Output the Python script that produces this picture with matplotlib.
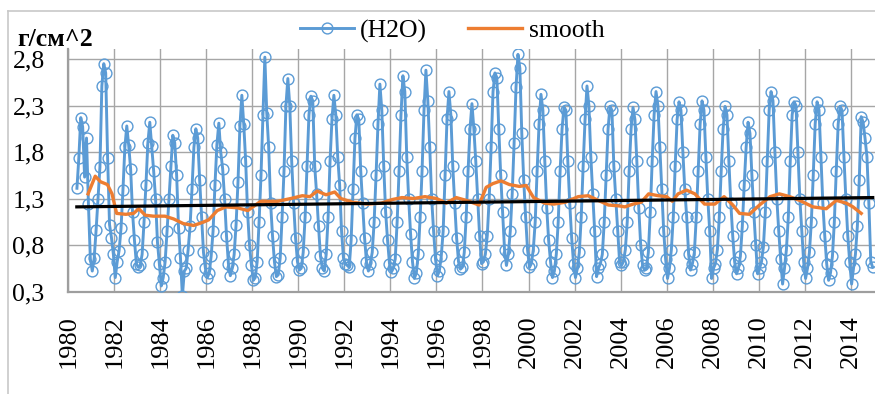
import numpy as np
import matplotlib
matplotlib.use("Agg")
import matplotlib.pyplot as plt
from matplotlib.lines import Line2D

# ---------------- data ----------------
start_year = 1980
start_month = 5  # data begins May 1980
h2o_by_year = {
    1980: [1.41, 1.74, 2.17, 2.07, 1.53, 1.95, 1.24, 0.65],
    1981: [0.52, 0.66, 0.96, 1.30, 1.64, 2.51, 2.75, 2.65, 1.74, 1.02, 0.88, 0.70],
    1982: [0.45, 0.62, 0.74, 0.98, 1.39, 1.85, 2.08, 1.87, 1.62, 1.15, 0.85, 0.60],
    1983: [0.56, 0.58, 0.70, 1.05, 1.45, 1.90, 2.12, 1.86, 1.60, 1.30, 0.83, 0.60],
    1984: [0.36, 0.45, 0.62, 0.95, 1.30, 1.65, 1.98, 1.90, 1.55, 0.98, 0.66, 0.25],
    1985: [0.52, 0.55, 0.75, 1.00, 1.40, 1.85, 2.05, 1.95, 1.50, 1.10, 0.72, 0.55],
    1986: [0.45, 0.50, 0.68, 0.95, 1.45, 1.88, 2.11, 1.80, 1.62, 1.30, 0.90, 0.60],
    1987: [0.47, 0.55, 0.70, 1.02, 1.48, 2.08, 2.41, 2.10, 1.70, 1.15, 0.80, 0.58],
    1988: [0.42, 0.45, 0.62, 1.05, 1.55, 2.20, 2.82, 2.22, 1.85, 1.25, 0.90, 0.62],
    1989: [0.46, 0.48, 0.66, 1.10, 1.60, 2.30, 2.59, 2.30, 1.70, 1.25, 0.88, 0.62],
    1990: [0.53, 0.55, 0.72, 1.10, 1.65, 2.20, 2.40, 2.35, 1.65, 1.35, 1.00, 0.68],
    1991: [0.55, 0.52, 0.70, 1.10, 1.70, 2.15, 2.41, 2.20, 1.75, 1.45, 0.95, 0.66],
    1992: [0.60, 0.58, 0.56, 0.85, 1.40, 1.95, 2.20, 2.15, 1.60, 1.25, 0.88, 0.62],
    1993: [0.52, 0.60, 0.72, 1.05, 1.55, 2.10, 2.53, 2.25, 1.65, 1.15, 0.85, 0.60],
    1994: [0.51, 0.55, 0.65, 1.05, 1.60, 2.20, 2.62, 2.45, 1.75, 1.30, 0.92, 0.62],
    1995: [0.44, 0.50, 0.70, 1.10, 1.60, 2.25, 2.68, 2.35, 1.85, 1.30, 0.95, 0.65],
    1996: [0.47, 0.52, 0.68, 0.95, 1.55, 2.15, 2.45, 2.20, 1.65, 1.25, 0.88, 0.62],
    1997: [0.54, 0.56, 0.72, 1.10, 1.60, 2.05, 2.32, 2.05, 1.70, 1.30, 0.90, 0.60],
    1998: [0.62, 0.70, 0.90, 1.30, 1.85, 2.45, 2.65, 2.60, 2.05, 1.55, 1.15, 0.75],
    1999: [0.58, 0.70, 0.95, 1.35, 1.90, 2.50, 2.85, 2.70, 2.00, 1.50, 1.10, 0.75],
    2000: [0.56, 0.60, 0.75, 1.05, 1.60, 2.10, 2.42, 2.25, 1.70, 1.20, 0.85, 0.62],
    2001: [0.45, 0.52, 0.70, 1.05, 1.60, 2.05, 2.28, 2.25, 1.70, 1.25, 0.88, 0.60],
    2002: [0.45, 0.55, 0.72, 1.10, 1.65, 2.15, 2.51, 2.30, 1.75, 1.35, 0.95, 0.46],
    2003: [0.55, 0.60, 0.70, 1.05, 1.55, 2.05, 2.29, 2.25, 1.65, 1.30, 0.95, 0.62],
    2004: [0.58, 0.62, 0.75, 1.05, 1.60, 2.05, 2.28, 2.15, 1.70, 1.20, 0.80, 0.58],
    2005: [0.53, 0.55, 0.72, 1.15, 1.70, 2.20, 2.45, 2.30, 1.85, 1.40, 0.95, 0.65],
    2006: [0.44, 0.55, 0.75, 1.10, 1.65, 2.15, 2.34, 2.25, 1.80, 1.40, 1.10, 0.70],
    2007: [0.53, 0.60, 0.72, 1.10, 1.60, 2.10, 2.35, 2.25, 1.75, 1.30, 0.95, 0.44],
    2008: [0.55, 0.60, 0.75, 1.10, 1.60, 2.05, 2.29, 2.20, 1.70, 1.25, 0.90, 0.62],
    2009: [0.49, 0.55, 0.68, 1.00, 1.45, 1.85, 2.12, 2.00, 1.55, 1.15, 0.80, 0.49],
    2010: [0.55, 0.62, 0.78, 1.15, 1.70, 2.25, 2.45, 2.35, 1.80, 1.30, 0.95, 0.65],
    2011: [0.38, 0.55, 0.75, 1.10, 1.70, 2.20, 2.34, 2.30, 1.80, 1.30, 0.95, 0.62],
    2012: [0.44, 0.55, 0.72, 1.05, 1.55, 2.10, 2.34, 2.25, 1.75, 1.25, 0.90, 0.60],
    2013: [0.42, 0.50, 0.68, 1.05, 1.60, 2.10, 2.29, 2.25, 1.75, 1.30, 0.90, 0.62],
    2014: [0.38, 0.55, 0.70, 1.00, 1.50, 2.18, 2.12, 1.95, 1.75, 1.25, 0.62, 0.56],
}

smooth_t = [1980.86, 1981.17, 1981.4, 1981.7, 1981.9, 1982.1, 1982.5, 1982.84, 1983.06,
            1983.35, 1983.7, 1984.2, 1984.58, 1985.0, 1985.45, 1985.8, 1986.1, 1986.47,
            1986.85, 1987.35, 1987.8, 1988.36, 1989.1, 1989.67, 1990.17, 1990.5, 1990.82,
            1991.2, 1991.58, 1991.84, 1992.35, 1993.0, 1993.6, 1994.1, 1994.5, 1995.0,
            1995.5, 1996.0, 1996.42, 1996.86, 1997.29, 1997.85, 1998.16, 1998.45, 1998.8,
            1999.17, 1999.6, 1999.9, 2000.22, 2000.7, 2001.1, 2001.6, 2002.16, 2002.6,
            2003.03, 2003.47, 2003.95, 2004.19, 2004.55, 2004.9, 2005.22, 2005.64, 2006.0,
            2006.25, 2006.5, 2006.87, 2007.23, 2007.65, 2008.1, 2008.5, 2008.88, 2009.17,
            2009.6, 2010.04, 2010.5, 2010.9, 2011.35, 2011.78, 2012.36, 2012.94, 2013.38,
            2013.81, 2014.1, 2014.46]
smooth_v = [1.35, 1.54, 1.48, 1.45, 1.35, 1.14, 1.13, 1.14, 1.19, 1.12, 1.11, 1.11, 1.08,
            1.03, 1.01, 1.04, 1.07, 1.17, 1.21, 1.20, 1.17, 1.27, 1.27, 1.30, 1.33, 1.32,
            1.38, 1.34, 1.37, 1.30, 1.26, 1.24, 1.25, 1.29, 1.31, 1.30, 1.32, 1.30, 1.25,
            1.31, 1.28, 1.23, 1.42, 1.46, 1.49, 1.45, 1.43, 1.44, 1.31, 1.25, 1.24, 1.26,
            1.32, 1.33, 1.28, 1.23, 1.22, 1.21, 1.24, 1.26, 1.35, 1.33, 1.32, 1.27, 1.35,
            1.39, 1.35, 1.24, 1.24, 1.32, 1.23, 1.14, 1.13, 1.23, 1.32, 1.35, 1.32, 1.28,
            1.21, 1.19, 1.28, 1.25, 1.21, 1.14]

trend_t = [1980.37, 2014.96]
trend_v = [1.21, 1.31]

y_ticks = [0.3, 0.8, 1.3, 1.8, 2.3, 2.8]
x_ticks = list(range(1980, 2015, 2))
legend_labels = ["(H2O)", "smooth"]
y_title = "г/см^2"

# ---------------- build monthly series ----------------
t_list, v_list = [], []
for yr, vals in h2o_by_year.items():
    m0 = start_month if yr == start_year else 1
    for i, v in enumerate(vals):
        m = m0 + i
        t_list.append(yr + (m - 0.5) / 12.0)
        v_list.append(v)
t = np.array(t_list)
v = np.array(v_list)

# ---------------- figure ----------------
plt.rcParams['font.family'] = ['Liberation Serif', 'DejaVu Serif']
W, H = 875, 394
fig = plt.figure(figsize=(W / 100, H / 100), dpi=100)
x0, x1, ytop, ybot = 68.3, 875, 49, 291.5
ax = fig.add_axes([x0 / W, (H - ybot) / H, (x1 - x0) / W, (ybot - ytop) / H])

blue = '#5B9BD5'
orange = '#ED7D31'
grid_c = '#A6A6A6'

ax.plot(t, v, color=blue, lw=2.1, marker='o', ms=7.8, mfc='none', mec=blue, mew=1.0,
        zorder=3)
ax.plot(smooth_t, smooth_v, color=orange, lw=2.4, zorder=4)
ax.plot(trend_t, trend_v, color='black', lw=2.3, zorder=5)

ax.set_xlim(1980, 1980 + (x1 - x0) / 23.01)
ax.set_ylim(0.3, 2.8 + (59 - ytop) / 92.9)
ax.set_xticks(x_ticks)
ax.set_xticklabels([str(x) for x in x_ticks], rotation=90, fontsize=19)
ax.set_yticks(y_ticks)
ax.set_yticklabels([f"{y:.1f}".replace('.', ',') for y in y_ticks], fontsize=18.5)
ax.tick_params(axis='both', length=0)
ax.tick_params(axis='x', pad=17)
ax.tick_params(axis='y', pad=17)
ax.grid(True, color=grid_c, lw=1.0)
ax.set_axisbelow(True)
for s in ['top', 'right']:
    ax.spines[s].set_visible(False)
for s in ['left', 'bottom']:
    ax.spines[s].set_color('#9E9E9E')
    ax.spines[s].set_linewidth(1.6)

fig.text(17 / W, 1 - 39 / H, y_title, fontsize=18.5, fontweight='bold', va='center', ha='left')

handles = [Line2D([], [], color=blue, lw=2.1, marker='o', ms=7.8, mfc='none', mec=blue, mew=1.0),
           Line2D([], [], color=orange, lw=2.4)]
fig.legend(handles, legend_labels, loc='center', bbox_to_anchor=(452 / W, 1 - 31 / H), ncol=2,
           frameon=False, fontsize=18.5, handlelength=2.1, handletextpad=0.25, columnspacing=1.6,
           borderpad=0, borderaxespad=0)

# chart-area border (partially visible)
fig.add_artist(Line2D([8 / W, 8 / W], [0, 1 - 11 / H], color='#C8C8C8', lw=1.2))
fig.add_artist(Line2D([8 / W, 1], [1 - 11 / H, 1 - 11 / H], color='#C8C8C8', lw=1.2))

fig.savefig('out.png', dpi=100)
